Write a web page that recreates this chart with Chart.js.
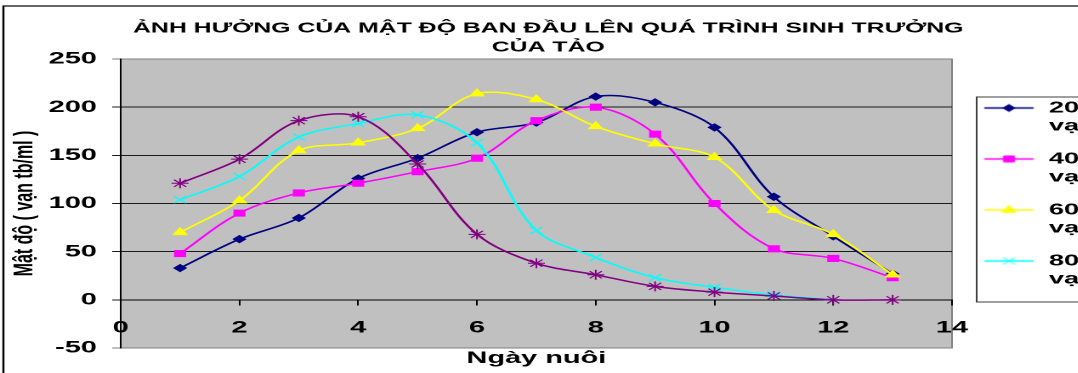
<!DOCTYPE html>
<html>
<head>
<meta charset="utf-8">
<script src="https://cdn.jsdelivr.net/npm/chart.js@4.4.1/dist/chart.umd.min.js"></script>
<style>
  html, body { margin: 0; padding: 0; background: #fff; overflow: hidden; width: 1078px; height: 373px; }
  /* a figura original está esticada na horizontal */
  #area { width: 645px; height: 373px; transform: scaleX(1.7); transform-origin: 0 0; }
</style>
</head>
<body>
<div id="area"><canvas id="graficoCrescimento" width="645" height="373"></canvas></div>
<script>
// Dados
const dias = [1, 2, 3, 4, 5, 6, 7, 8, 9, 10, 11, 12, 13];
const nomesSeries = ['20 vạn tb/ml', '40 vạn tb/ml', '60 vạn tb/ml', '80 vạn tb/ml', '100 vạn tb/ml'];
const mat20 = [33, 63, 85, 126, 147, 174, 184, 211, 205, 179, 107, 66, 27];
const mat40 = [48, 90, 111, 121, 133, 147, 186, 200, 172, 100, 53, 43, 23];
const mat60 = [70, 103, 155, 163, 178, 214, 208, 180, 162, 148, 93, 68, 26];
const mat80 = [104, 128, 169, 183, 192, 163, 72, 44, 23, 13, 5, 0, null];
const mat100 = [121, 146, 186, 190, 141, 68, 38, 26, 14, 8, 4, 0, 0];
const ticksX = [0, 2, 4, 6, 8, 10, 12, 14];
const ticksY = [-50, 0, 50, 100, 150, 200, 250];

const valores = [mat20, mat40, mat60, mat80, mat100];
const cores = ['#000080', '#ff00ff', '#ffff00', '#00ffff', '#800080'];
const estilos = ['rectRot', 'rect', 'triangle', 'crossRot', 'star'];
const raios = [3.5, 4.3, 4.5, 5, 5];

Chart.defaults.font.family = "'Liberation Sans', Arial, sans-serif";
Chart.defaults.color = '#000';

// Ícone da legenda: linha + marcador
function iconeLegenda(cor, estilo, raio) {
  const c = document.createElement('canvas');
  c.width = 34; c.height = 14;
  const g = c.getContext('2d');
  g.strokeStyle = cor; g.fillStyle = cor; g.lineWidth = 1.5;
  g.beginPath(); g.moveTo(4, 7); g.lineTo(33, 7); g.stroke();
  g.lineWidth = 1;
  Chart.helpers.drawPoint(g, { pointStyle: estilo, radius: raio, rotation: 0, borderWidth: 1 }, 18.5, 7);
  return c;
}
const icones = cores.map((cor, i) => iconeLegenda(cor, estilos[i], raios[i]));

// Fundo cinza, bordas e caixa da legenda
const fundoPlugin = {
  id: 'fundo',
  beforeDraw(chart) {
    const { ctx, chartArea: a } = chart;
    ctx.save();
    ctx.fillStyle = '#fff';
    ctx.fillRect(0, 0, chart.width, chart.height);
    ctx.strokeStyle = '#000'; ctx.lineWidth = 1.2;
    ctx.strokeRect(2, 6, chart.width + 20, chart.height + 20);
    ctx.fillStyle = '#c0c0c0';
    ctx.fillRect(a.left, a.top, a.right - a.left, a.bottom - a.top);
    ctx.strokeStyle = '#808080'; ctx.lineWidth = 1;
    ctx.strokeRect(a.left, a.top, a.right - a.left, a.bottom - a.top);

    const caixas = chart.legend.legendHitBoxes;
    if (caixas && caixas.length) {
      const esq = Math.min(...caixas.map(b => b.left)) - 0.5;
      const topo = caixas[0].top - 3;
      const ult = caixas[caixas.length - 1];
      const base = ult.top + ult.height + 13;
      ctx.strokeStyle = '#404040';
      ctx.strokeRect(esq, topo, chart.width, base - topo);
    }
    ctx.restore();
  }
};

const ctx = document.getElementById('graficoCrescimento').getContext('2d');
new Chart(ctx, {
  type: 'line',
  data: {
    datasets: valores.map((vals, i) => ({
      label: nomesSeries[i],
      data: dias.map((d, k) => ({ x: d, y: vals[k] })),
      borderColor: cores[i],
      backgroundColor: cores[i],
      borderWidth: 1.5,
      tension: 0.35,
      pointStyle: estilos[i],
      pointRadius: raios[i],
      pointBorderWidth: 1,
      pointBackgroundColor: cores[i],
      pointBorderColor: cores[i],
      order: 4 - i
    }))
  },
  options: {
    responsive: false,
    devicePixelRatio: 2,
    animation: false,
    events: [],
    layout: { padding: { top: 16, left: 0, right: 0, bottom: 0 } },
    plugins: {
      tooltip: { enabled: false },
      title: {
        display: true,
        text: ['ẢNH HƯỞNG CỦA MẬT ĐỘ BAN ĐẦU LÊN QUÁ TRÌNH SINH TRƯỞNG', 'CỦA TẢO'],
        font: { size: 14.6, weight: 'bold', lineHeight: 19 / 14.6 },
        padding: { top: 3, bottom: 2 },
        color: '#000'
      },
      subtitle: {
        display: true,
        text: 'Ngày nuôi',
        position: 'bottom',
        fullSize: false,
        font: { size: 17, weight: 'bold', lineHeight: 19 / 17 },
        padding: { top: 1, bottom: 5 },
        color: '#000'
      },
      legend: {
        position: 'right',
        align: 'center',
        maxWidth: 85,
        labels: {
          usePointStyle: true,
          pointStyleWidth: 34,
          padding: 15,
          color: '#000',
          font: { size: 16, weight: 'bold', lineHeight: 18 / 16 },
          generateLabels(chart) {
            const itens = Chart.defaults.plugins.legend.labels.generateLabels(chart);
            // a legenda original só mostra as 4 primeiras séries
            return itens
              .filter(it => it.datasetIndex < 4)
              .sort((a, b) => a.datasetIndex - b.datasetIndex)
              .map(it => {
                const partes = nomesSeries[it.datasetIndex].split(' ');
                it.text = [partes[0], partes.slice(1).join(' ')];
                it.pointStyle = icones[it.datasetIndex];
                return it;
              });
          }
        }
      }
    },
    scales: {
      x: {
        type: 'linear',
        min: 0,
        max: 14,
        position: { y: 0 },
        afterBuildTicks: s => { s.ticks = ticksX.map(v => ({ value: v })); },
        afterFit: s => { s.height = 0; },
        grid: { drawOnChartArea: false, drawTicks: true, tickLength: 5, color: '#000' },
        border: { color: '#000', width: 1 },
        ticks: { padding: 13, maxRotation: 0, autoSkip: false, color: '#000', font: { size: 17, weight: 'bold' } }
      },
      y: {
        type: 'linear',
        min: -50,
        max: 250,
        afterBuildTicks: s => { s.ticks = ticksY.map(v => ({ value: v })); },
        afterFit: s => { s.width = 71; },
        grid: {
          color: c => (c.tick && (c.tick.value === 250 || c.tick.value === -50)) ? '#808080' : '#1a1a1a',
          tickLength: 5
        },
        border: { color: '#000', width: 1 },
        ticks: { padding: 9, color: '#000', font: { size: 17, weight: 'bold' } },
        title: {
          display: true,
          text: 'Mật độ ( vạn tb/ml )',
          color: '#000',
          font: { size: 16, weight: 'bold' },
          padding: { top: 5, bottom: 0 }
        }
      }
    }
  },
  plugins: [fundoPlugin]
});
</script>
</body>
</html>
